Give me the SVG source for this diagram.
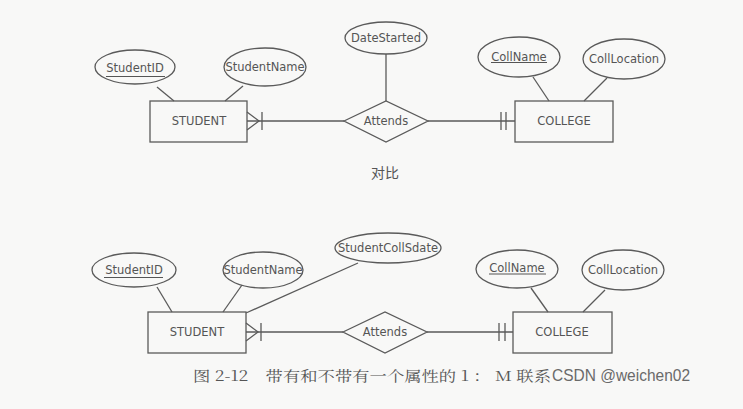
<svg xmlns="http://www.w3.org/2000/svg" width="743" height="409" viewBox="0 0 743 409">
<style>
.shape{fill:none;stroke:#5a5a5a;stroke-width:1.3}
.ln{stroke:#5a5a5a;stroke-width:1.3;fill:none}
.ul{stroke:#555;stroke-width:1.1}
.t{font-family:"DejaVu Sans",Verdana,sans-serif;font-size:11.5px;fill:#555;text-anchor:middle}
.cap{font-family:"Noto Serif CJK SC","Noto Sans CJK SC",serif;font-size:14px;fill:#555}
.wm{font-family:"Liberation Sans",Arial,sans-serif;font-size:17px;fill:#6a6a6a}
</style>
<rect width="743" height="409" fill="#f8f8f7"/>
<!-- Top diagram -->
<g id="top-connectors">
<line class="ln" x1="157" y1="87" x2="174" y2="101"/>
<line class="ln" x1="243" y1="86" x2="225" y2="101"/>
<line class="ln" x1="386" y1="54" x2="386" y2="101"/>
<line class="ln" x1="247" y1="121" x2="344" y2="121"/>
<polyline class="ln" points="247,112 259,121 247,130"/>
<line class="ln" x1="262" y1="112" x2="262" y2="130"/>
<line class="ln" x1="428" y1="121" x2="515" y2="121"/>
<line class="ln" x1="501" y1="112" x2="501" y2="130"/>
<line class="ln" x1="506" y1="112" x2="506" y2="130"/>
<line class="ln" x1="533" y1="77" x2="549" y2="101"/>
<line class="ln" x1="607" y1="78" x2="584" y2="101"/>
</g>
<g id="top-studentid"><ellipse class="shape" cx="135" cy="67" rx="40" ry="17"/><text class="t" x="135" y="72">StudentID</text><line class="ul" x1="106" y1="76.5" x2="165" y2="76.5"/></g>
<g id="top-studentname"><ellipse class="shape" cx="265" cy="67" rx="41" ry="19"/><text class="t" x="265" y="71">StudentName</text></g>
<g id="top-datestarted"><ellipse class="shape" cx="386" cy="38" rx="41" ry="16"/><text class="t" x="386" y="42">DateStarted</text></g>
<g id="top-student"><rect class="shape" x="150" y="101" width="97" height="41"/><text class="t" x="199" y="125">STUDENT</text></g>
<g id="top-attends"><polygon class="shape" points="344,121 386,101 428,121 386,142"/><text class="t" x="386" y="125">Attends</text></g>
<g id="top-college"><rect class="shape" x="515" y="101" width="98" height="41"/><text class="t" x="564" y="125">COLLEGE</text></g>
<g id="top-collname"><ellipse class="shape" cx="519" cy="57" rx="41" ry="20"/><text class="t" x="519" y="61">CollName</text><line class="ul" x1="491" y1="62.5" x2="547" y2="62.5"/></g>
<g id="top-colllocation"><ellipse class="shape" cx="624" cy="59" rx="41" ry="20"/><text class="t" x="624" y="63">CollLocation</text></g>
<text x="385" y="178" style="font-family:'Noto Sans CJK SC',sans-serif;font-size:14px;fill:#555;text-anchor:middle">对比</text>
<!-- Bottom diagram -->
<g id="bottom-connectors">
<line class="ln" x1="157" y1="287" x2="172" y2="312"/>
<line class="ln" x1="242" y1="285" x2="223" y2="312"/>
<line class="ln" x1="358" y1="263" x2="246" y2="313"/>
<line class="ln" x1="246" y1="332" x2="343" y2="332"/>
<polyline class="ln" points="246,323 258,332 246,341"/>
<line class="ln" x1="261" y1="323" x2="261" y2="341"/>
<line class="ln" x1="427" y1="332" x2="513" y2="332"/>
<line class="ln" x1="499" y1="323" x2="499" y2="341"/>
<line class="ln" x1="505" y1="323" x2="505" y2="341"/>
<line class="ln" x1="531" y1="288" x2="548" y2="312"/>
<line class="ln" x1="605" y1="290" x2="583" y2="312"/>
</g>
<g id="bottom-studentid"><ellipse class="shape" cx="134" cy="270" rx="42" ry="17"/><text class="t" x="134" y="274">StudentID</text><line class="ul" x1="104" y1="277.5" x2="163" y2="277.5"/></g>
<g id="bottom-studentname"><ellipse class="shape" cx="263" cy="270" rx="40" ry="18"/><text class="t" x="263" y="274">StudentName</text></g>
<g id="bottom-studentcollsdate"><ellipse class="shape" cx="388" cy="248" rx="53" ry="15"/><text class="t" x="388" y="252">StudentCollSdate</text></g>
<g id="bottom-student"><rect class="shape" x="148" y="312" width="98" height="41"/><text class="t" x="197" y="336">STUDENT</text></g>
<g id="bottom-attends"><polygon class="shape" points="343,332 385,312 427,332 385,353"/><text class="t" x="385" y="336">Attends</text></g>
<g id="bottom-college"><rect class="shape" x="513" y="312" width="99" height="41"/><text class="t" x="562" y="336">COLLEGE</text></g>
<g id="bottom-collname"><ellipse class="shape" cx="517" cy="269" rx="41" ry="19"/><text class="t" x="517" y="272">CollName</text><line class="ul" x1="489" y1="274" x2="546" y2="274"/></g>
<g id="bottom-colllocation"><ellipse class="shape" cx="623" cy="270" rx="41" ry="20"/><text class="t" x="623" y="274">CollLocation</text></g>
<text class="cap" x="193" y="381" textLength="358" lengthAdjust="spacingAndGlyphs">图 2-12　带有和不带有一个属性的 1 ： M 联系</text>
<text class="wm" x="552" y="381" textLength="138" lengthAdjust="spacingAndGlyphs">CSDN @weichen02</text>
</svg>
